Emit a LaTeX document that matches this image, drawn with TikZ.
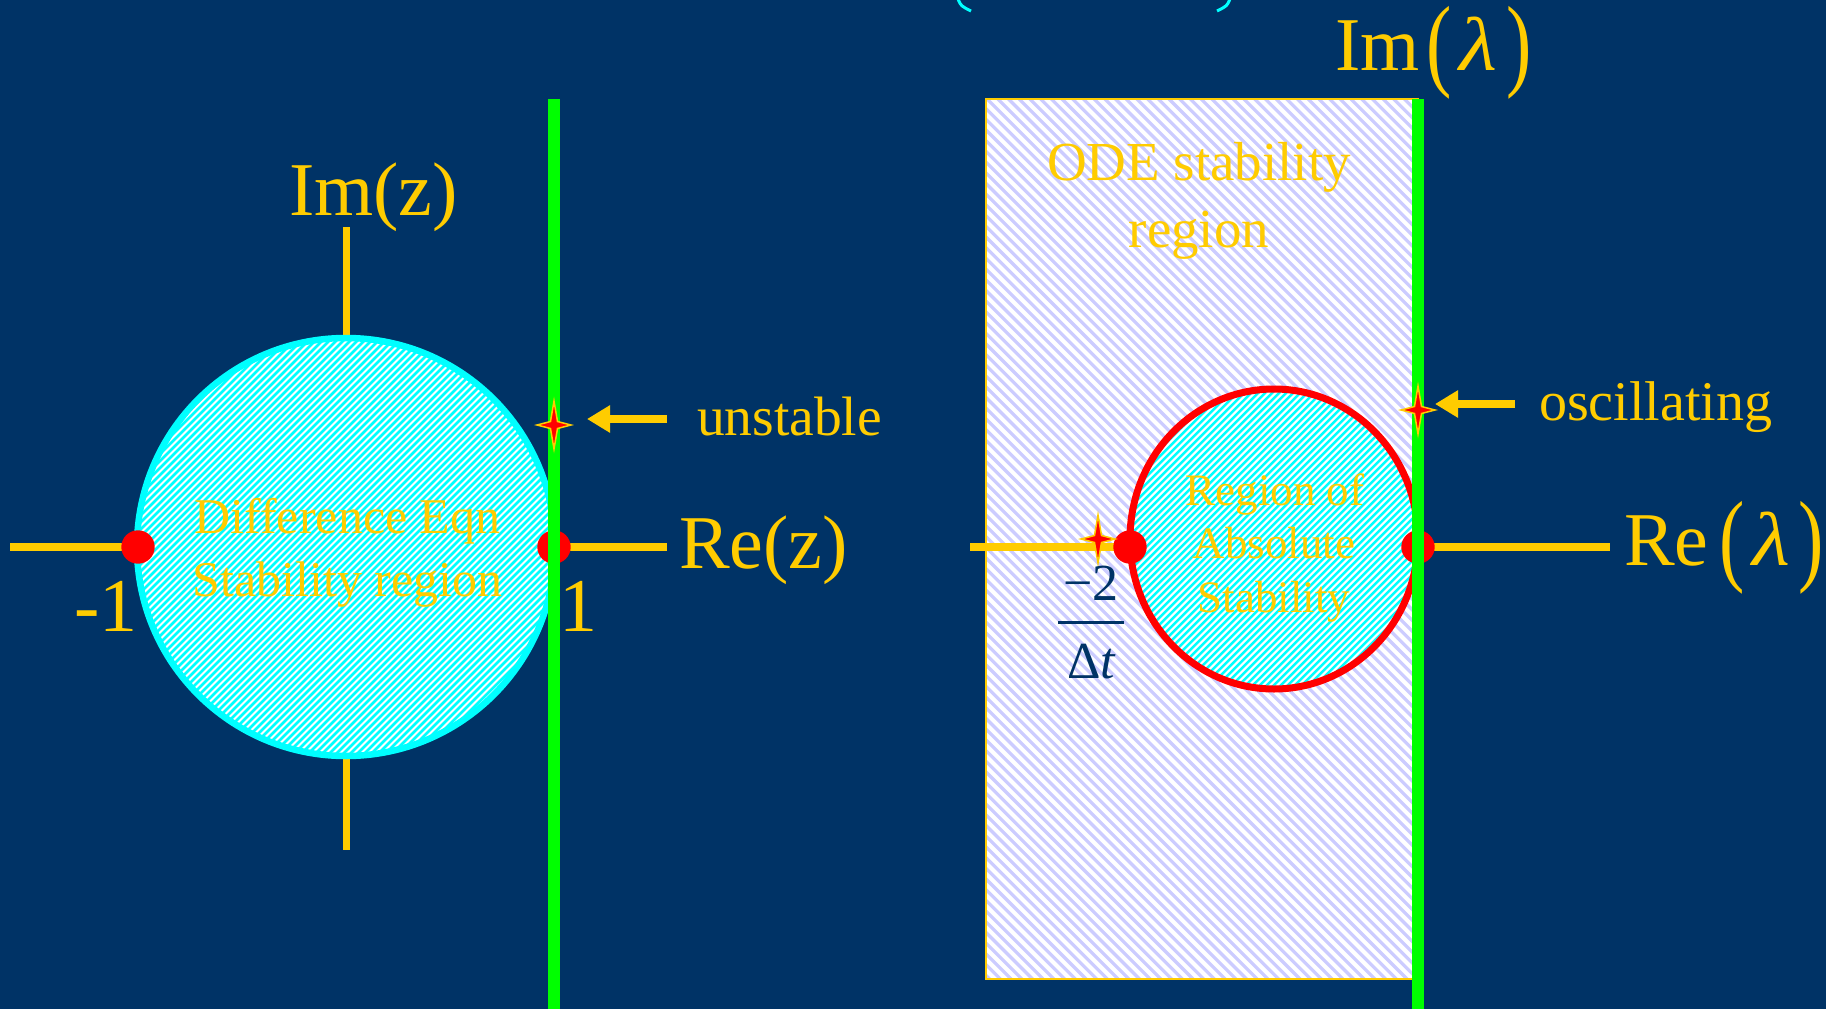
\documentclass[tikz,border=0pt]{standalone}
\usepackage{fontspec}
\setmainfont{Liberation Serif}
\usepackage{graphicx}
\usetikzlibrary{arrows.meta}
\definecolor{bg}{HTML}{003366}
\definecolor{gold}{HTML}{FFCC00}
\definecolor{lav}{HTML}{CCCCFF}
\definecolor{grn}{HTML}{00FF00}
\definecolor{navy}{HTML}{003366}
\definecolor{cyn}{HTML}{00FFFF}
\definecolor{rd}{HTML}{FF0000}
\newcommand\myfs[1]{\fontsize{#1}{#1}\selectfont}
\newcommand\bigpar[1]{\raisebox{-7pt}{\scalebox{1}[1.35]{#1}}}
\newcommand\mylam{\scalebox{1.15}[1]{\textit{λ}}}
\begin{document}
\begin{tikzpicture}[x=1pt,y=-1pt,
  lbl/.style={text=gold,inner sep=0pt,outer sep=0pt},
  axisline/.style={draw=gold,line width=7.5pt},
  greenline/.style={draw=grn,line width=12pt},
  reddot/.style={fill=rd},
  cyanstripe/.style={draw=cyn,line width=2.5pt},
  lavstripe/.style={draw=lav,line width=3.2pt},
  pointer/.style={draw=gold,line width=8pt,-{Triangle[length=23pt,width=26pt]}},
  fourstar/.pic={\path[fill=rd,draw=gold,line width=1.5pt] (0,-24) -- (3.5,-3.5) -- (17,0) -- (3.5,3.5) -- (0,24) -- (-3.5,3.5) -- (-17,0) -- (-3.5,-3.5) -- cycle;}
]
\useasboundingbox (0,0) rectangle (1826,1009);
\fill[bg] (0,0) rectangle (1826,1009);

% cut-off title parentheses at top
\draw[cyn,line width=3pt] (958,-1) .. controls (961,6) .. (971,11);
\draw[cyn,line width=3pt] (1230,-1) .. controls (1227,6) .. (1217,11);

% ODE region rectangle (hatched)
\begin{scope}
  \clip (986,99) rectangle (1418,979);
  \fill[white] (986,99) rectangle (1418,979);
  \foreach \c in {0,10.7,...,1335} \draw[lavstripe] (\c-100,-100) -- (\c+1100,1100);
\end{scope}
\draw[gold,line width=1.5pt] (986,99) rectangle (1418,979);

% left axes
\coordinate (lre0) at (10,547);
\coordinate (lre1) at (667,547);
\coordinate (lim0) at (346.5,227);
\coordinate (lim1) at (346.5,850);
\draw[axisline] (lre0) -- (lre1);
\draw[axisline] (lim0) -- (lim1);

% left unit circle (hatched)
\begin{scope}
  \clip (346,547) circle[radius=209];
  \fill[white] (346,547) circle[radius=209];
  \foreach \c in {460,467,...,1330} \draw[cyanstripe] (\c,0) -- (\c-1100,1100);
\end{scope}
\draw[cyn,line width=6.5pt] (346,547) circle[radius=209];

% right axis
\coordinate (rre0) at (970,547);
\coordinate (rre1) at (1610,547);
\draw[axisline] (rre0) -- (rre1);

% region of absolute stability (hatched)
\begin{scope}
  \clip (1274,539) ellipse[x radius=144,y radius=150];
  \fill[white] (1274,539) ellipse[x radius=144,y radius=150];
  \foreach \c in {1490,1497,...,2130} \draw[cyanstripe] (\c,0) -- (\c-1100,1100);
\end{scope}
\draw[rd,line width=7pt] (1274,539) ellipse[x radius=144,y radius=150];

% red dots
\fill[reddot] (138,547) circle[radius=16.7];
\fill[reddot] (554,547) circle[radius=16.7];
\fill[reddot] (1130,547) circle[radius=16.7];
\fill[reddot] (1418,547) circle[radius=16.7];

% green lines
\coordinate (g1a) at (554,99);
\coordinate (g1b) at (554,1009);
\coordinate (g2a) at (1418,99);
\coordinate (g2b) at (1418,1009);
\draw[greenline] (g1a) -- (g1b);
\draw[greenline] (g2a) -- (g2b);

% stars
\pic at (554,425) {fourstar};
\pic at (1418,410) {fourstar};
\pic at (1098,539) {fourstar};

% arrows
\coordinate (ua) at (667,419);
\coordinate (ub) at (587,419);
\draw[pointer] (ua) -- (ub);
\coordinate (oa) at (1515,404);
\coordinate (ob) at (1435,404);
\draw[pointer] (oa) -- (ob);

% labels
\node[lbl,anchor=base west,font=\myfs{76}] (imz) at (289,215) {Im(z)};
\node[lbl,anchor=base west,font=\myfs{76}] (rez) at (679,568) {Re(z)};
\node[lbl,anchor=base east,font=\myfs{76}] (m1) at (138,631) {-1};
\node[lbl,anchor=base,font=\myfs{76}] (p1) at (578,631) {1};
\node[lbl,anchor=base west,font=\myfs{55.5}] (unst) at (697,435) {unstable};
\node[lbl,anchor=base west,font=\myfs{56}] (osc) at (1539,420) {oscillating};
\node[lbl,anchor=base west,font=\myfs{76}] (iml) at (1335,70) {Im\kern7pt\bigpar{(}\kern8pt\mylam\kern9pt\bigpar{)}};
\node[lbl,anchor=base west,font=\myfs{76}] (rel) at (1624,565) {Re\kern11pt\bigpar{(}\kern8pt\mylam\kern8pt\bigpar{)}};

\node[lbl,anchor=base,font=\myfs{50}] (de1) at (347.5,533) {Difference Eqn};
\node[lbl,anchor=base,font=\myfs{50}] (de2) at (347.5,596) {Stability region};

\node[lbl,anchor=base,font=\myfs{45}] (ra1) at (1275,505) {Region of};
\node[lbl,anchor=base,font=\myfs{45}] (ra2) at (1274,558) {Absolute};
\node[lbl,anchor=base,font=\myfs{45}] (ra3) at (1274,612) {Stability};

\node[lbl,anchor=base,font=\myfs{55}] (ode1) at (1199,180) {ODE stability};
\node[lbl,anchor=base,font=\myfs{55}] (ode2) at (1199,247) {region};

\node[lbl,text=navy,anchor=base,font=\myfs{52}] (num) at (1091,600) {−2};
\node[lbl,text=navy,anchor=base,font=\myfs{52}] (den) at (1092,678) {Δ\textit{t}};
\coordinate (bar0) at (1058,622);
\coordinate (bar1) at (1124,622);
\draw[navy,line width=3pt] (bar0) -- (bar1);
\end{tikzpicture}
\end{document}
